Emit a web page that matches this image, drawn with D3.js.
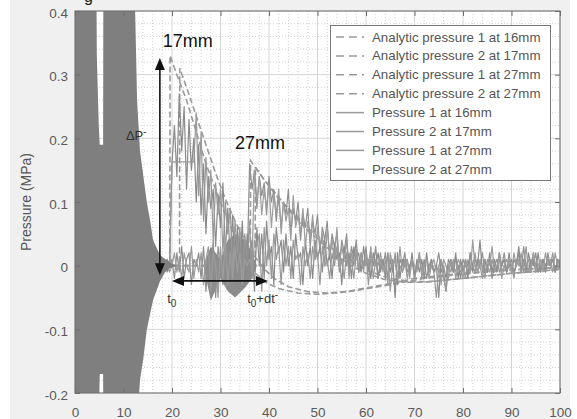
<!DOCTYPE html>
<html><head><meta charset="utf-8">
<script src="https://cdn.jsdelivr.net/npm/d3@7"></script>
<style>html,body{margin:0;padding:0;background:#fff}svg{display:block;font-family:"Liberation Sans",Arial,sans-serif}</style>
</head><body><svg id="c" width="577" height="419"></svg>
<script>
// ---------- DATA ----------
const xTicks = [0,10,20,30,40,50,60,70,80,90,100];
const xTickLabels = ["0","10","20","30","40","50","60","70","80","90","100"];
const yTicks = [-0.2,-0.1,0,0.1,0.2,0.3,0.4];
const yTickLabels = ["-0.2","-0.1","0","0.1","0.2","0.3","0.4"];

const legendLabels = ["Analytic pressure 1 at 16mm","Analytic pressure 2 at 17mm","Analytic pressure 1 at 27mm","Analytic pressure 2 at 27mm","Pressure 1 at 16mm","Pressure 2 at 17mm","Pressure 1 at 27mm","Pressure 2 at 27mm"];

// dense early noise drawn as its envelope
const fillX    = [0, 4.4, 4.5, 4.9, 5.1, 5.8, 5.85, 12.0, 12.4, 12.8, 13.4, 14.1, 14.8, 15.5, 16.1, 17.5, 18.6, 19.6, 21.0];
const fillHigh = [0.45,0.45,0.33,0.22,0.19,0.19,0.45,0.45,0.40,0.26,0.18,0.14,0.10,0.07,0.04,0.017,0.01,0.005,0.0];
const fillLow  = [-0.25,-0.25,-0.25,-0.25,-0.17,-0.17,-0.25,-0.25,-0.25,-0.25,-0.18,-0.145,-0.101,-0.075,-0.054,-0.025,-0.01,-0.004,0.0];
// later dense noise patch
const patchX    = [26.5, 28, 30, 31.5, 33, 35, 36.5, 37.5];
const patchHigh = [0, 0.03, 0.01, 0.04, 0.05, 0.04, 0.02, 0];
const patchLow  = [0, -0.055, -0.02, -0.04, -0.05, -0.035, -0.02, 0];

// analytic pressures
const a1_16X = [0, 19.55, 19.6, 21, 23, 25, 27, 29, 31, 33, 35, 37, 39, 42, 46, 50, 55, 60, 65, 70, 80, 90, 100];
const a1_16Y = [0, 0, 0.33, 0.30, 0.26, 0.21, 0.16, 0.12, 0.08, 0.045, 0.015, -0.01, -0.025, -0.036, -0.043, -0.045, -0.042, -0.035, -0.028, -0.02, -0.012, -0.006, -0.003];
const a2_17X = [0, 21.55, 21.6, 23, 25, 27, 29, 31, 33, 35, 37, 39, 41, 44, 48, 52, 57, 62, 67, 72, 80, 90, 100];
const a2_17Y = [0, 0, 0.31, 0.28, 0.235, 0.19, 0.145, 0.105, 0.07, 0.04, 0.015, -0.005, -0.02, -0.033, -0.041, -0.043, -0.04, -0.034, -0.027, -0.02, -0.013, -0.007, -0.003];
const a1_27X = [0, 36.15, 36.2, 38, 40, 42, 45, 48, 51, 54, 57, 60, 64, 68, 72, 80, 90, 100];
const a1_27Y = [0, 0, 0.165, 0.145, 0.125, 0.105, 0.08, 0.055, 0.035, 0.015, 0.0, -0.012, -0.022, -0.026, -0.026, -0.02, -0.012, -0.006];
const a2_27X = [0, 37.15, 37.2, 39, 41, 43, 46, 49, 52, 55, 58, 61, 65, 69, 73, 80, 90, 100];
const a2_27Y = [0, 0, 0.155, 0.135, 0.117, 0.098, 0.075, 0.052, 0.033, 0.015, 0.002, -0.01, -0.02, -0.025, -0.025, -0.02, -0.012, -0.006];

// measured pressures, sampled every 0.5 from t = 15
const measStart = 15, measStep = 0.5;
const p1_16 = [0.00,0.01,-0.01,0.01,0.00,-0.01,0.01,0.00,0.01,0.00,
 0.16,0.22,0.14,0.27,0.18,0.25,0.12,0.23,0.15,0.20,0.10,0.19,
 0.08,0.16,0.05,0.14,0.09,0.12,0.03,0.11,0.06,0.13,0.02,0.09,
 0.01,0.08,-0.02,0.06,0.00,0.07,-0.03,0.05,0.01,0.04,-0.04,0.06,
 0.00,0.05,-0.02,0.07,0.01,0.03,-0.03,0.06,0.02,0.04,-0.01,0.05,
 0.00,0.03,-0.02,0.05,0.01,0.02,-0.03,0.04,0.00,0.03,-0.02,0.04,
 0.01,0.03,-0.01,0.04,0.00,0.02,-0.02,0.03,0.01,0.02,-0.03,0.03,
 0.00,0.02,-0.02,0.03,0.01,0.02,-0.01,0.03,0.00,0.01,-0.02,0.02,
 0.00,0.02,-0.01,0.01,-0.02,0.02,-0.01,0.01,-0.05,0.02,-0.02,0.01,
 0.00,0.01,-0.01,0.02,-0.02,0.01,-0.01,0.01,-0.02,0.02,-0.01,0.01,
 -0.01,0.00,-0.05,0.01,-0.01,-0.04,0.00,0.01,-0.01,0.02,-0.02,0.01,
 -0.01,0.01,-0.02,0.02,-0.01,0.01,0.00,0.04,-0.01,0.01,-0.01,0.02,
 -0.01,0.01,-0.01,0.02,0.00,0.01,-0.01,0.02,-0.01,0.01,0.00,0.03,
 -0.01,0.01,-0.01,0.02,0.00,0.01,-0.01,0.02,-0.01,0.01,0.00,0.01,
 0.00,0.01,-0.01,0.01,0.00];
const p2_17 = [0.00,0.01,0.00,-0.01,0.01,0.00,-0.01,0.00,0.01,0.00,
 0.163,0.163,0.163,0.163,0.163,0.163,0.163,0.163,0.163,0.163,0.24,0.11,
 0.21,0.07,0.17,0.10,0.15,0.04,0.13,0.08,0.12,0.02,0.10,0.05,
 0.09,-0.01,0.07,0.02,0.06,-0.03,0.05,0.01,0.07,-0.02,0.04,0.03,
 0.05,-0.04,0.06,0.00,0.04,-0.02,0.05,0.01,0.03,-0.03,0.04,0.00,
 0.03,-0.02,0.04,0.01,0.02,-0.03,0.03,0.00,0.02,-0.02,0.03,0.01,
 0.02,-0.03,0.03,0.00,0.01,-0.02,0.02,0.00,0.03,-0.01,0.01,-0.02,
 0.02,0.00,0.01,-0.02,0.02,-0.01,0.01,0.00,0.02,-0.03,0.01,0.00,
 0.01,-0.02,0.00,0.01,-0.01,0.02,-0.04,0.00,0.01,-0.02,0.00,-0.01,
 0.01,-0.02,0.00,0.01,-0.01,0.00,0.02,-0.02,0.00,0.01,-0.01,0.00,
 -0.01,-0.05,0.00,0.01,-0.02,-0.04,0.00,-0.01,0.01,-0.02,0.00,-0.01,
 0.00,-0.02,0.01,-0.01,0.00,0.02,-0.01,0.00,-0.02,0.01,0.00,-0.01,
 0.01,-0.01,0.00,0.02,-0.01,0.00,-0.01,0.01,0.00,-0.02,0.01,0.00,
 0.02,-0.01,0.00,0.01,-0.01,0.02,0.00,-0.01,0.01,0.00,-0.01,0.01,
 0.00,0.02,-0.01,0.01,0.00];
const p1_27 = [0.00,-0.01,0.01,0.00,-0.01,0.01,0.00,0.01,-0.01,0.00,
 0.01,-0.02,0.02,-0.01,0.03,-0.02,0.01,0.02,-0.03,0.01,0.00,0.02,
 -0.02,0.03,-0.04,0.02,-0.01,0.04,-0.05,0.03,0.00,-0.03,0.04,-0.02,
 0.03,-0.04,0.02,-0.01,0.03,-0.03,0.02,0.00,
 0.16,0.12,0.15,0.09,0.14,0.11,0.13,0.08,0.14,0.10,0.12,0.07,
 0.11,0.06,0.10,0.08,0.12,0.05,0.09,0.07,0.10,0.04,0.08,0.06,
 0.09,0.03,0.07,0.05,0.08,0.02,0.06,0.04,0.07,0.01,0.05,0.03,
 0.05,0.00,0.04,0.02,0.05,-0.01,0.03,0.01,0.04,-0.01,0.02,0.00,
 0.03,-0.01,0.02,0.00,0.03,-0.02,0.01,0.00,0.02,-0.02,0.01,-0.01,
 0.02,-0.03,0.01,0.00,0.02,-0.01,0.00,0.01,-0.02,0.00,0.01,-0.01,
 0.01,-0.02,0.00,0.01,-0.01,0.00,0.02,-0.01,0.00,-0.02,0.01,0.00,
 -0.01,0.01,0.00,-0.02,0.01,0.00,-0.01,0.02,0.00,-0.01,0.01,0.00,
 0.02,-0.01,0.00,0.01,-0.02,0.00,0.01,-0.01,0.00,0.02,-0.01,0.00,
 0.01,-0.01,0.00,0.02,-0.01,0.03,0.00,-0.01,0.01,0.00,0.02,-0.01,
 0.00,0.01,-0.01,0.02,0.00,0.01,-0.01,0.01,0.00];
const p2_27 = [0.01,0.00,-0.01,0.00,0.01,-0.01,0.00,0.01,0.00,-0.01,
 0.00,0.02,-0.01,0.01,-0.02,0.02,0.00,-0.01,0.03,-0.02,0.01,-0.01,
 0.02,-0.03,0.01,0.03,-0.04,0.02,0.00,-0.05,0.03,-0.02,0.04,-0.03,
 0.02,-0.02,0.03,-0.01,0.02,-0.03,0.01,0.00,
 0.01,0.00,0.15,0.10,0.14,0.08,0.12,0.09,0.13,0.06,0.11,0.08,
 0.12,0.05,0.10,0.07,0.09,0.04,0.11,0.06,0.08,0.05,0.09,0.03,
 0.07,0.04,0.08,0.01,0.06,0.03,0.05,0.00,0.06,0.02,0.04,0.01,
 0.06,0.00,0.03,0.01,0.04,-0.02,0.02,0.00,0.03,-0.01,0.02,-0.01,
 0.02,0.00,0.03,-0.02,0.01,0.00,0.02,-0.01,0.01,-0.03,0.02,0.00,
 0.01,-0.02,0.03,-0.01,0.00,0.01,-0.02,0.01,0.00,-0.01,0.02,-0.01,
 0.00,0.01,-0.02,0.00,0.01,-0.01,0.00,-0.03,0.01,0.00,-0.02,0.01,
 0.00,-0.01,0.01,0.00,-0.02,0.01,0.00,-0.01,0.04,0.00,-0.01,0.01,
 0.00,-0.02,0.01,0.00,0.03,-0.01,0.00,0.01,-0.02,0.00,0.01,0.00,
 -0.01,0.02,0.00,0.01,-0.01,0.00,0.03,-0.01,0.00,0.02,-0.01,0.00,
 0.01,-0.01,0.02,0.00,0.01,-0.01,0.02,0.00,0.01];

// annotations (data coordinates)
const vArrow = {x: 17.5, y0: -0.015, y1: 0.326};
const hArrow = {y: -0.024, x0: 20.0, x1: 39.8};
const labels17 = {x: 18.1, y: 0.344, text: "17mm"};
const labels27 = {x: 33.0, y: 0.1825, text: "27mm"};

// ---------- CHART ----------
const svg = d3.select("#c");
const W = 577, H = 419;
const x = d3.scaleLinear().domain([0,100]).range([75,560]);
const y = d3.scaleLinear().domain([-0.2,0.4]).range([393,11]);

svg.append("rect").attr("x",0).attr("y",0).attr("width",W).attr("height",H).attr("fill","#fff");
svg.append("rect").attr("x",10).attr("y",0).attr("width",560).attr("height",H).attr("fill","#f0f0f0");
svg.append("rect").attr("x",x(0)).attr("y",y(0.4)).attr("width",x(100)-x(0)).attr("height",y(-0.2)-y(0.4)).attr("fill","#fff");

// partial title glyph at very top (clipped in the original figure too)
svg.append("text").attr("x",84).attr("y",2).attr("font-size",16).attr("fill","#222").text("g");

svg.append("defs").append("clipPath").attr("id","clip").append("rect")
  .attr("x",x(0)).attr("y",y(0.4)).attr("width",x(100)-x(0)).attr("height",y(-0.2)-y(0.4));

const grid = svg.append("g");
const xMinor = d3.range(0,101,2).filter(v=>v%10!==0);
const yMinor = d3.range(-0.2,0.4001,0.02).filter(v=>Math.abs(Math.round(v*10)-v*10)>1e-6);
grid.selectAll(".xm").data(xMinor).join("line").attr("x1",d=>x(d)).attr("x2",d=>x(d)).attr("y1",y(-0.2)).attr("y2",y(0.4))
  .attr("stroke","#c8c8c8").attr("stroke-dasharray","1,2").attr("stroke-width",0.8);
grid.selectAll(".ym").data(yMinor).join("line").attr("y1",d=>y(d)).attr("y2",d=>y(d)).attr("x1",x(0)).attr("x2",x(100))
  .attr("stroke","#c8c8c8").attr("stroke-dasharray","1,2").attr("stroke-width",0.8);
grid.selectAll(".xM").data(xTicks).join("line").attr("x1",d=>x(d)).attr("x2",d=>x(d)).attr("y1",y(-0.2)).attr("y2",y(0.4))
  .attr("stroke","#d6d6d6").attr("stroke-width",1);
grid.selectAll(".yM").data(yTicks).join("line").attr("y1",d=>y(d)).attr("y2",d=>y(d)).attr("x1",x(0)).attr("x2",x(100))
  .attr("stroke","#d6d6d6").attr("stroke-width",1);

const plot = svg.append("g").attr("clip-path","url(#clip)");
const env = (xs,hi,lo)=>xs.map((v,i)=>({x:v,hi:hi[i],lo:lo[i]}));
const area = d3.area().x(d=>x(d.x)).y0(d=>y(d.lo)).y1(d=>y(d.hi));

const line = d3.line().x(d=>x(d[0])).y(d=>y(d[1]));
const pairs = (xs,ys)=>xs.map((v,i)=>[v,ys[i]]);
const meas = vals=>vals.map((v,i)=>[measStart+i*measStep, v]);

[[a1_16X,a1_16Y],[a2_17X,a2_17Y],[a1_27X,a1_27Y],[a2_27X,a2_27Y]].forEach(([xs,ys])=>{
  plot.append("path").datum(pairs(xs,ys)).attr("d",line).attr("fill","none")
    .attr("stroke","#9a9a9a").attr("stroke-width",1.6).attr("stroke-dasharray","6,3");
});
plot.append("path").datum(env(patchX,patchHigh,patchLow)).attr("d",area).attr("fill","#8c8c8c");
[p1_16,p2_17,p1_27,p2_27].forEach((vals,k)=>{
  plot.append("path").datum(meas(vals)).attr("d",line).attr("fill","none")
    .attr("stroke",["#8a8a8a","#999","#8f8f8f","#9c9c9c"][k]).attr("stroke-width",1.2).attr("stroke-linejoin","round");
});
plot.append("path").datum(env(fillX,fillHigh,fillLow)).attr("d",area).attr("fill","#7f7f7f");

// axes box & ticks
const axCol = "#6e6e6e";
const bx = svg.append("g").attr("transform",`translate(0,${y(-0.2)})`)
  .call(d3.axisBottom(x).tickValues(xTicks).tickFormat((d,i)=>xTickLabels[i]).tickSizeInner(-5).tickSizeOuter(0).tickPadding(14));
const tx = svg.append("g").attr("transform",`translate(0,${y(0.4)})`)
  .call(d3.axisTop(x).tickValues(xTicks).tickFormat("").tickSizeInner(-5).tickSizeOuter(0));
const ly = svg.append("g").attr("transform",`translate(${x(0)},0)`)
  .call(d3.axisLeft(y).tickValues(yTicks).tickFormat((d,i)=>yTickLabels[i]).tickSizeInner(-5).tickSizeOuter(0).tickPadding(7));
const ry = svg.append("g").attr("transform",`translate(${x(100)},0)`)
  .call(d3.axisRight(y).tickValues(yTicks).tickFormat("").tickSizeInner(-5).tickSizeOuter(0));
[bx,tx,ly,ry].forEach(g=>{
  g.select(".domain").remove();
  g.selectAll("line").attr("stroke",axCol);
  g.selectAll("text").attr("fill","#5a5a5a").attr("font-size",13.5).attr("font-family","Liberation Sans, Arial, sans-serif");
});
ly.selectAll("text").attr("dy","0.45em");
svg.append("rect").attr("x",x(0)).attr("y",y(0.4)).attr("width",x(100)-x(0)).attr("height",y(-0.2)-y(0.4))
  .attr("fill","none").attr("stroke",axCol).attr("stroke-width",1);

svg.append("text").attr("transform",`translate(31,${(y(0.4)+y(-0.2))/2}) rotate(-90)`).attr("text-anchor","middle")
  .attr("font-size",14).attr("fill","#555").text("Pressure (MPa)");

// legend
const lg = svg.append("g");
lg.append("rect").attr("x",330.5).attr("y",25.5).attr("width",220).attr("height",155).attr("fill","#fff").attr("stroke","#777").attr("stroke-width",1);
legendLabels.forEach((t,i)=>{
  const yy = 37 + i*18.9;
  lg.append("line").attr("x1",336).attr("x2",364).attr("y1",yy).attr("y2",yy)
    .attr("stroke","#9a9a9a").attr("stroke-width",1.5).attr("stroke-dasharray", i<4 ? "8,5" : null);
  lg.append("text").attr("x",372).attr("y",yy+4.5).attr("font-size",13.3).attr("fill","#555").text(t);
});

// annotations
const ann = svg.append("g");
function arrowHead(px,py,dir){
  const L=12,Wd=5; let p;
  if(dir==='up') p=[[px,py],[px-Wd,py+L],[px+Wd,py+L]];
  if(dir==='down') p=[[px,py],[px-Wd,py-L],[px+Wd,py-L]];
  if(dir==='left') p=[[px,py],[px+L,py-Wd],[px+L,py+Wd]];
  if(dir==='right') p=[[px,py],[px-L,py-Wd],[px-L,py+Wd]];
  ann.append("path").attr("d","M"+p.map(q=>q.join(",")).join("L")+"Z").attr("fill","#111");
}
ann.append("line").attr("x1",x(vArrow.x)).attr("x2",x(vArrow.x)).attr("y1",y(vArrow.y1)+6).attr("y2",y(vArrow.y0)-6).attr("stroke","#111").attr("stroke-width",1.6);
arrowHead(x(vArrow.x),y(vArrow.y1),'up');
arrowHead(x(vArrow.x),y(vArrow.y0),'down');
ann.append("line").attr("y1",y(hArrow.y)).attr("y2",y(hArrow.y)).attr("x1",x(hArrow.x0)+6).attr("x2",x(hArrow.x1)-6).attr("stroke","#111").attr("stroke-width",1.8);
arrowHead(x(hArrow.x0),y(hArrow.y),'left');
arrowHead(x(hArrow.x1),y(hArrow.y),'right');

[labels17,labels27].forEach(l=>{
  ann.append("text").attr("x",x(l.x)).attr("y",y(l.y)).attr("font-size",18).attr("fill","#111").text(l.text);
});
const dp = ann.append("text").attr("x",x(10.5)).attr("y",y(0.197)).attr("font-size",13).attr("fill","#333");
dp.append("tspan").text("ΔP");
dp.append("tspan").attr("dy",-5).attr("font-size",10).text("-");
const t0 = ann.append("text").attr("x",x(19.0)).attr("y",y(-0.0586)).attr("font-size",13).attr("fill","#333");
t0.append("tspan").text("t");
t0.append("tspan").attr("dy",4).attr("font-size",10).text("0");
const t1 = ann.append("text").attr("x",x(35.5)).attr("y",y(-0.0586)).attr("font-size",13).attr("fill","#333");
t1.append("tspan").text("t");
t1.append("tspan").attr("dy",4).attr("font-size",10).text("0");
t1.append("tspan").attr("dy",-4).text("+dt");
t1.append("tspan").attr("dy",-5).attr("font-size",10).text("-");
</script></body></html>
